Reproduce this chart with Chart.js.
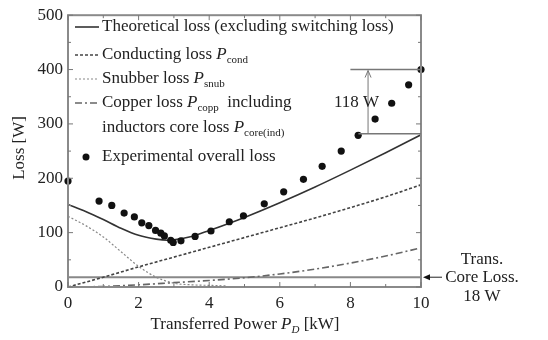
<!DOCTYPE html>
<html>
<head>
<meta charset="utf-8">
<script src="https://cdn.jsdelivr.net/npm/chart.js@4.4.0/dist/chart.umd.min.js"></script>
<style>
    html, body { margin: 0; padding: 0; background: #fff; }
</style>
</head>
<body>
<canvas id="lossChart" width="548" height="340"></canvas>
<script>
// values
const theoX = [0, 0.5, 1, 1.5, 2, 2.5, 2.8, 3, 3.5, 4, 5, 6, 7, 8, 9, 10];
const theoY = [152, 139, 124, 108, 95, 88, 86, 87, 93, 104, 128, 155, 184, 215, 247, 280];

const condX = [0, 1, 2, 3, 4, 5, 6, 7, 8, 9, 10];
const condY = [0, 18, 37, 55, 73, 91, 109, 127, 146, 166, 188];

const snubX = [0, 0.5, 1, 1.5, 2, 2.5, 3, 3.5, 4, 4.5];
const snubY = [130, 113, 92, 65, 38, 18, 7, 4, 3, 2];

const coppX = [0, 1, 2, 3, 4, 5, 6, 7, 8, 9, 10];
const coppY = [0, 1, 4, 8, 12, 17, 24, 33, 44, 57, 72];

const coreX = [0, 10];
const coreY = [18, 18];

const expX = [0, 0.88, 1.24, 1.59, 1.88, 2.09, 2.29, 2.48, 2.63, 2.73, 2.91, 2.98, 3.2, 3.6, 4.05, 4.57, 4.97, 5.56, 6.11, 6.67, 7.2, 7.74, 8.22, 8.7, 9.17, 9.65, 10];
const expY = [195, 158, 150, 136, 129, 118, 113, 104, 99, 94, 86, 82, 85, 93, 103, 120, 131, 153, 175, 198, 222, 250, 279, 309, 338, 372, 400];

const xTicks = [0, 2, 4, 6, 8, 10];
const yTicks = [0, 100, 200, 300, 400, 500];

// 118 W gap annotation and transformer core loss
const gapX = [8, 10];
const gapTop = 400;
const gapBottom = 282;
const gapArrowX = 8.5;
const coreLoss = 18;

const SERIF = '"Liberation Serif", "DejaVu Serif", serif';
const TEXT = "#222";

function pts(xs, ys) {
    return xs.map((x, i) => ({ x: x, y: ys[i] }));
}

function fontFor(p, size) {
    const s = p.sub ? Math.round(size * 0.66) : size;
    return (p.it ? "italic " : "") + s + "px " + SERIF;
}

function drawRich(ctx, parts, x, y, size, align) {
    let w = 0;
    parts.forEach(p => { ctx.font = fontFor(p, size); w += ctx.measureText(p.t).width; });
    let cx = align === "center" ? x - w / 2 : x;
    ctx.textAlign = "left";
    ctx.textBaseline = "middle";
    parts.forEach(p => {
        ctx.font = fontFor(p, size);
        ctx.fillText(p.t, cx, p.sub ? y + size * 0.32 : y);
        cx += ctx.measureText(p.t).width;
    });
}

function sample(ctx, y, dash, color, width) {
    ctx.save();
    ctx.strokeStyle = color;
    ctx.lineWidth = width;
    ctx.setLineDash(dash);
    ctx.beginPath();
    ctx.moveTo(75, y);
    ctx.lineTo(99, y);
    ctx.stroke();
    ctx.restore();
}

const decor = {
    id: "decor",
    beforeDraw(chart) {
        const ctx = chart.ctx;
        ctx.save();
        ctx.fillStyle = "#fff";
        ctx.fillRect(0, 0, chart.width, chart.height);
        ctx.restore();
    },
    afterDraw(chart) {
        const ctx = chart.ctx;
        const a = chart.chartArea;
        const xs = chart.scales.x;
        const ys = chart.scales.y;
        ctx.save();

        // frame
        ctx.strokeStyle = "#8a8a8a";
        ctx.lineWidth = 2;
        ctx.strokeRect(a.left, a.top, a.right - a.left, a.bottom - a.top);

        // inward ticks on all sides
        ctx.strokeStyle = "#777";
        ctx.lineWidth = 1;
        for (let v = 0; v <= 10; v++) {
            const px = xs.getPixelForValue(v);
            const len = v % 2 === 0 ? 5 : 3;
            ctx.beginPath();
            ctx.moveTo(px, a.bottom); ctx.lineTo(px, a.bottom - len);
            ctx.moveTo(px, a.top); ctx.lineTo(px, a.top + len);
            ctx.stroke();
        }
        for (let v = 0; v <= 500; v += 50) {
            const py = ys.getPixelForValue(v);
            const len = v % 100 === 0 ? 5 : 3;
            ctx.beginPath();
            ctx.moveTo(a.left, py); ctx.lineTo(a.left + len, py);
            ctx.moveTo(a.right, py); ctx.lineTo(a.right - len, py);
            ctx.stroke();
        }

        // legend
        ctx.fillStyle = TEXT;
        sample(ctx, 27, [], "#333", 1.6);
        drawRich(ctx, [{ t: "Theoretical loss (excluding switching loss)" }], 102, 27, 17);
        sample(ctx, 55, [3, 2], "#444", 1.6);
        drawRich(ctx, [{ t: "Conducting loss " }, { t: "P", it: true }, { t: "cond", sub: true }], 102, 55, 17);
        sample(ctx, 79, [2, 2], "#888", 1.2);
        drawRich(ctx, [{ t: "Snubber loss " }, { t: "P", it: true }, { t: "snub", sub: true }], 102, 79, 17);
        sample(ctx, 103, [7, 3, 2, 3], "#666", 1.6);
        drawRich(ctx, [{ t: "Copper loss " }, { t: "P", it: true }, { t: "copp", sub: true }, { t: "  including" }], 102, 103, 17);
        drawRich(ctx, [{ t: "inductors core loss " }, { t: "P", it: true }, { t: "core(ind)", sub: true }], 102, 128, 17);
        ctx.fillStyle = "#111";
        ctx.beginPath();
        ctx.arc(86, 157, 3.5, 0, Math.PI * 2);
        ctx.fill();
        ctx.fillStyle = TEXT;
        drawRich(ctx, [{ t: "Experimental overall loss" }], 102, 157, 17);

        // 118 W gap
        const gx0 = xs.getPixelForValue(gapX[0]);
        const gx1 = xs.getPixelForValue(gapX[1]);
        const gTop = ys.getPixelForValue(gapTop);
        const gBot = ys.getPixelForValue(gapBottom);
        const gax = xs.getPixelForValue(gapArrowX);
        ctx.strokeStyle = "#777";
        ctx.lineWidth = 1.6;
        ctx.beginPath();
        ctx.moveTo(gx0, gTop); ctx.lineTo(gx1, gTop);
        ctx.moveTo(gx0 + 8, gBot); ctx.lineTo(gx1, gBot);
        ctx.stroke();
        ctx.lineWidth = 1;
        ctx.beginPath();
        ctx.moveTo(gax, gBot); ctx.lineTo(gax, gTop + 1);
        ctx.moveTo(gax - 3, gTop + 8); ctx.lineTo(gax, gTop + 1); ctx.lineTo(gax + 3, gTop + 8);
        ctx.stroke();
        drawRich(ctx, [{ t: "118 W" }], 334, 103, 17);

        // transformer core loss note
        const cy = ys.getPixelForValue(coreLoss);
        ctx.strokeStyle = "#222";
        ctx.lineWidth = 1;
        ctx.beginPath();
        ctx.moveTo(a.right + 6, cy); ctx.lineTo(a.right + 21, cy);
        ctx.stroke();
        ctx.fillStyle = "#111";
        ctx.beginPath();
        ctx.moveTo(a.right + 2, cy);
        ctx.lineTo(a.right + 9, cy - 3);
        ctx.lineTo(a.right + 9, cy + 3);
        ctx.closePath();
        ctx.fill();
        ctx.fillStyle = TEXT;
        drawRich(ctx, [{ t: "Trans." }], 482, 260, 17, "center");
        drawRich(ctx, [{ t: "Core Loss." }], 482, 278, 17, "center");
        drawRich(ctx, [{ t: "18 W" }], 482, 297, 17, "center");

        // axis titles
        drawRich(ctx, [{ t: "Transferred Power " }, { t: "P", it: true }, { t: "D", it: true, sub: true }, { t: " [kW]" }], 245, 325, 17, "center");
        ctx.translate(20, 148);
        ctx.rotate(-Math.PI / 2);
        drawRich(ctx, [{ t: "Loss [W]" }], 0, 0, 17, "center");

        ctx.restore();
    }
};

const ctx = document.getElementById("lossChart").getContext("2d");

new Chart(ctx, {
    type: "scatter",
    data: {
        datasets: [
            { label: "Experimental", data: pts(expX, expY), pointRadius: 3.6, pointBackgroundColor: "#111", pointBorderWidth: 0, showLine: false, clip: false, order: 0 },
            { label: "Theoretical", data: pts(theoX, theoY), showLine: true, borderColor: "#333", borderWidth: 1.6, pointRadius: 0, cubicInterpolationMode: "monotone", order: 1 },
            { label: "Conducting", data: pts(condX, condY), showLine: true, borderColor: "#444", borderWidth: 1.6, borderDash: [3, 2], pointRadius: 0, cubicInterpolationMode: "monotone", order: 2 },
            { label: "Snubber", data: pts(snubX, snubY), showLine: true, borderColor: "#888", borderWidth: 1.2, borderDash: [2, 2], pointRadius: 0, cubicInterpolationMode: "monotone", order: 3 },
            { label: "Copper", data: pts(coppX, coppY), showLine: true, borderColor: "#666", borderWidth: 1.6, borderDash: [7, 3, 2, 3], pointRadius: 0, cubicInterpolationMode: "monotone", order: 4 },
            { label: "Core", data: pts(coreX, coreY), showLine: true, borderColor: "#888", borderWidth: 2, pointRadius: 0, order: 5 }
        ]
    },
    options: {
        responsive: false,
        animation: false,
        layout: { padding: { top: 10, right: 127, left: 0, bottom: 0 } },
        plugins: { legend: { display: false }, tooltip: { enabled: false } },
        scales: {
            x: {
                type: "linear", min: 0, max: 10,
                afterFit: s => { s.height = 53; },
                afterBuildTicks: s => { s.ticks = xTicks.map(v => ({ value: v })); },
                grid: { display: false, drawTicks: false },
                border: { display: false },
                ticks: { color: TEXT, font: { family: SERIF, size: 17 }, padding: 6 }
            },
            y: {
                type: "linear", min: 0, max: 500,
                afterFit: s => { s.width = 68; },
                afterBuildTicks: s => { s.ticks = yTicks.map(v => ({ value: v })); },
                grid: { display: false, drawTicks: false },
                border: { display: false },
                ticks: { color: TEXT, font: { family: SERIF, size: 17 }, padding: 5 }
            }
        }
    },
    plugins: [decor]
});
</script>
</body>
</html>
